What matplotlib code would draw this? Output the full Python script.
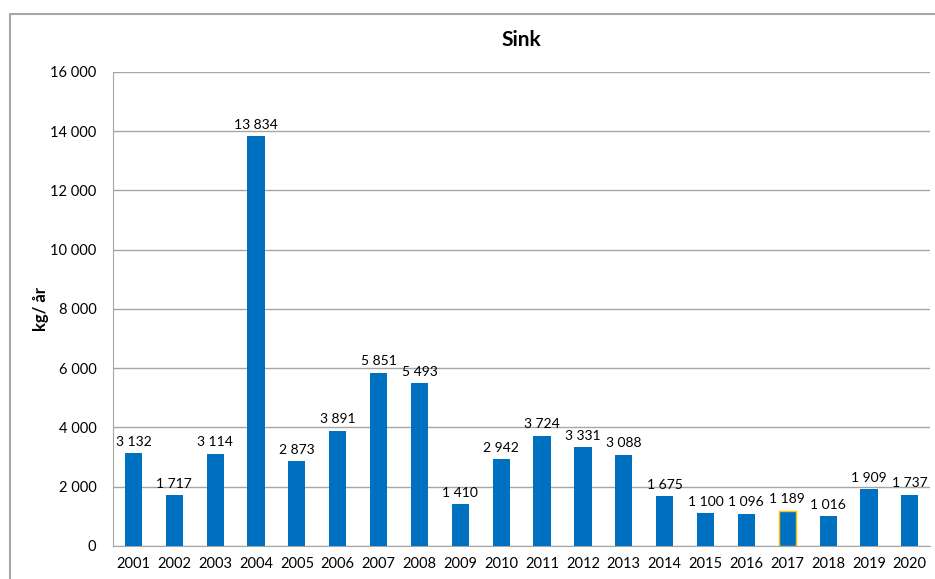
import matplotlib.pyplot as plt
from matplotlib.patches import Rectangle

years = [str(y) for y in range(2001, 2021)]
sink = [3132, 1717, 3114, 13834, 2873, 3891, 5851, 5493, 1410, 2942,
        3724, 3331, 3088, 1675, 1100, 1096, 1189, 1016, 1909, 1737]
yticks = [0, 2000, 4000, 6000, 8000, 10000, 12000, 14000, 16000]


def fmt(v):
    return f"{v:,}".replace(",", " ")


plt.rcParams['font.family'] = ['Lato', 'DejaVu Sans']

fig = plt.figure(figsize=(9.35, 5.79), dpi=100)
ax = fig.add_axes([0.1209, 0.057, 0.874, 0.8187])

# ramme rundt diagrammet
fig.patches.append(Rectangle((10 / 935, -0.1), 1.2, 0.1 + 1 - 14 / 579,
                             transform=fig.transFigure, fill=False,
                             edgecolor='#a6a6a6', linewidth=1.5))

x = range(len(years))
bars = ax.bar(x, sink, width=0.42, color='#0070c0', zorder=3)
bars[16].set_edgecolor('#ffc000')
bars[16].set_linewidth(1)

for xi, v in zip(x, sink):
    ax.text(xi, v + 180, fmt(v), ha='center', va='bottom', fontsize=10)

ax.set_xlim(-0.5, len(years) - 0.5)
ax.set_ylim(0, 16000)
ax.set_yticks(yticks)
ax.set_yticklabels([fmt(t) for t in yticks], fontsize=10.5)
ax.set_xticks(list(x))
ax.set_xticklabels(years, fontsize=10.5)
ax.tick_params(axis='both', length=0, pad=8)
ax.tick_params(axis='y', pad=12)

ax.grid(axis='y', color='#a6a6a6', linewidth=1, zorder=0)
for s in ['top', 'right']:
    ax.spines[s].set_visible(False)
ax.spines['left'].set_color('#a6a6a6')
ax.spines['bottom'].set_color('#a6a6a6')

ax.set_title('Sink', fontsize=15, fontweight='bold', pad=19)
ax.set_ylabel('kg/ år', fontsize=12, fontweight='bold', labelpad=1)

fig.savefig('out.png', dpi=100)
